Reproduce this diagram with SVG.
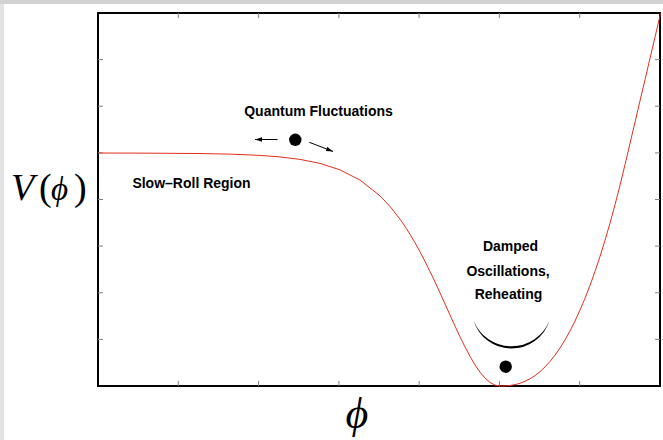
<svg xmlns="http://www.w3.org/2000/svg" width="663" height="440" viewBox="0 0 663 440">
<style>
.lbl{font-family:"Liberation Sans",Arial,sans-serif;font-weight:bold;font-size:14px;fill:#000}
.math{font-family:"Liberation Serif","DejaVu Serif",serif;fill:#000}
.tick{stroke:#808080;stroke-width:1;fill:none}
.arr{stroke:#000;stroke-width:1;fill:none}
</style>
<defs>
<marker id="ah" markerWidth="8" markerHeight="6" refX="7" refY="3" orient="auto" markerUnits="userSpaceOnUse">
<path d="M0,0.8 L7,3 L0,5.2 Z" fill="#000"/>
</marker>
</defs>
<rect x="0" y="0" width="663" height="440" fill="#fff"/>
<rect x="0" y="0" width="663" height="4" fill="#d2d2d2"/>
<rect x="0" y="4" width="4" height="436" fill="#e3e3e3"/>
<g id="axes">
<rect x="98" y="13" width="562" height="373" fill="none" stroke="#000" stroke-width="2"/>
<path class="tick" d="M178.3,386V381M258.6,386V381M338.9,386V381M419.1,386V381M499.4,386V381M579.7,386V381M178.3,13V18M258.6,13V18M338.9,13V18M419.1,13V18M499.4,13V18M579.7,13V18M98,59.6H103M98,106.2H103M98,152.9H103M98,199.5H103M98,246.1H103M98,292.8H103M98,339.4H103M660,59.6H655M660,106.2H655M660,152.9H655M660,199.5H655M660,246.1H655M660,292.8H655M660,339.4H655"/>
</g>
<g id="potential">
<polyline fill="none" stroke="#e3301c" stroke-width="1" stroke-linejoin="round" points="99,153.0 150,153.16 200,153.54 230,154.14 260,155.39 280,156.91 300,159.39 320,163.4 340,169.85 360,180.07 380,195.83 390,206.43 400,219.2 405,226.44 410,234.31 415,242.76 420,251.77 425,261.36 430,271.45 435,281.97 440,292.83 445,303.9 450,315.03 455,326.05 460,336.77 465,346.96 470,356.42 475,364.9 480,372.19 485,378.09 490,382.44 495,385.1 500,386 505,385.9 510,385.48 515,384.63 520,383.28 525,381.35 530,378.79 535,375.57 540,371.63 545,366.93 550,361.45 555,355.14 560,347.98 565,339.91 570,330.95 575,321.03 580,310.15 585,298.28 590,285.39 595,271.44 600,256.44 605,240.34 610,223.14 615,204.8 620,185.31 625,164.65 635,122.13 645,79.61 655,37.09 660.6,13.3"/>
</g>
<g id="quantum-fluctuations">
<text class="lbl" x="318.5" y="116" text-anchor="middle">Quantum Fluctuations</text>
<circle cx="295.3" cy="139.8" r="6.2" fill="#000"/>
<line class="arr" x1="277.5" y1="139.5" x2="255" y2="139.5" marker-end="url(#ah)"/>
<line class="arr" x1="309.3" y1="142.3" x2="333" y2="151.4" marker-end="url(#ah)"/>
</g>
<g id="slow-roll">
<text class="lbl" x="191.5" y="188" text-anchor="middle">Slow–Roll Region</text>
</g>
<g id="reheating">
<text class="lbl" x="510.5" y="251" text-anchor="middle">Damped</text>
<text class="lbl" x="508" y="276" text-anchor="middle">Oscillations,</text>
<text class="lbl" x="508.5" y="299" text-anchor="middle">Reheating</text>
<path d="M473.5,320.5 A39.79,39.79 0 0 0 549.5,320.5 A40.88,40.88 0 0 1 473.5,320.5 Z" fill="#000"/>
<circle cx="505.7" cy="366.7" r="6.2" fill="#000"/>
</g>
<g id="axis-labels">
<text class="math" y="200" font-size="38"><tspan x="11" font-style="italic">V</tspan><tspan x="39">(</tspan><tspan x="51" font-style="italic" font-size="33">ϕ</tspan><tspan x="74">)</tspan></text>
<text class="math" x="357" y="428" font-size="44" font-style="italic" text-anchor="middle">ϕ</text>
</g>
</svg>
